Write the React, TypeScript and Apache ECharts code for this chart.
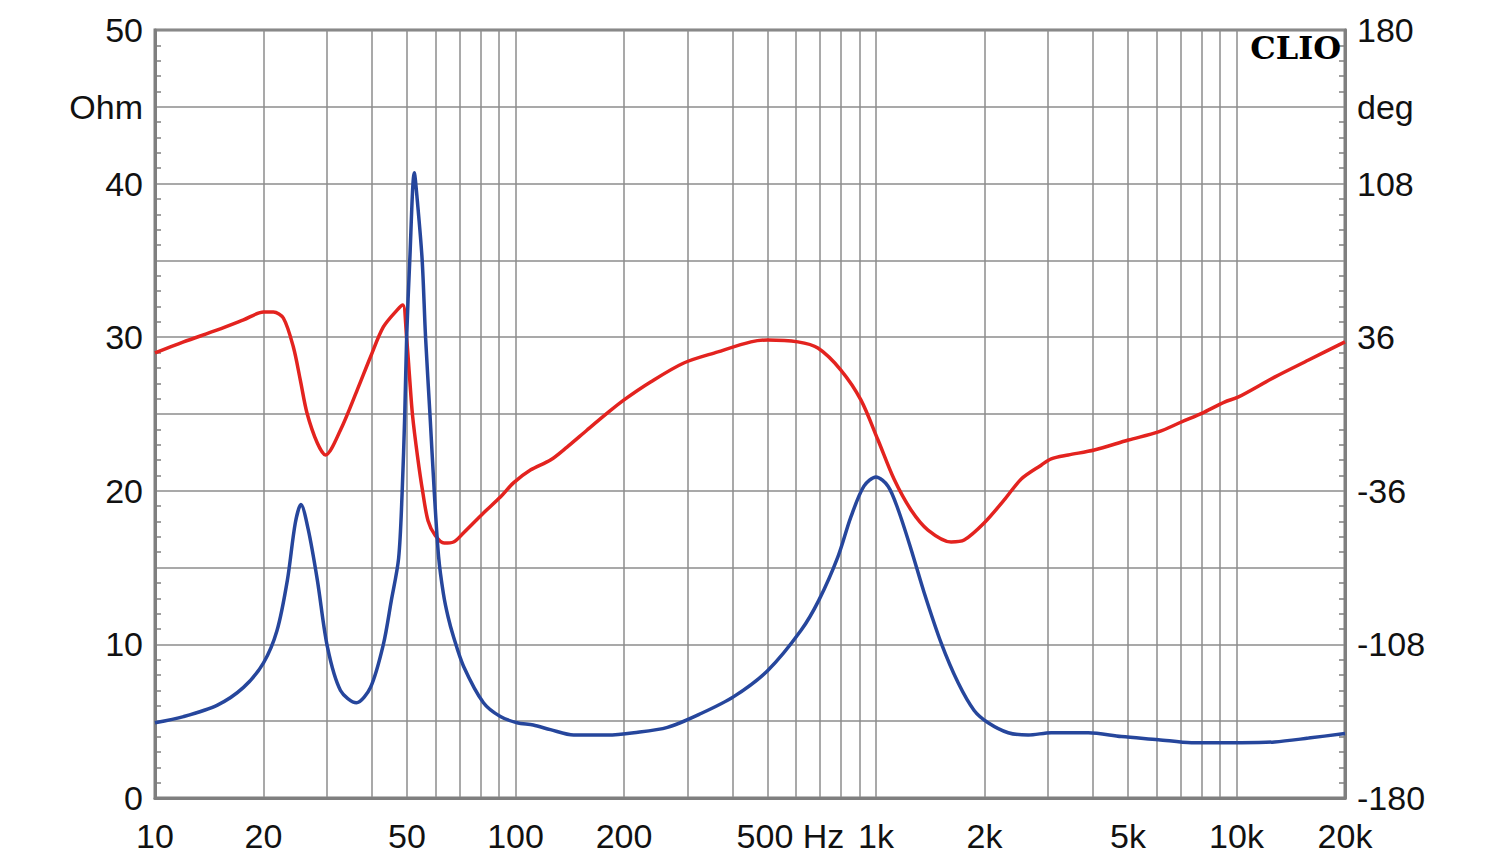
import React, { useEffect, useRef } from "react";
import * as echarts from "echarts";

// Impedance magnitude (Ohm) vs frequency (Hz)
const IMP_FREQ = [10, 12, 14.9, 17.6, 20, 21.8, 23.3, 24.5, 25.4, 26.6, 28.2, 30.1, 32.7, 36.2, 39.6, 43, 45.2, 47.4, 48.5, 49.3, 49.9, 50.9, 52.4, 53.6, 55.1, 56.3, 57.9, 59.5, 61.2, 63.1, 65, 67.3, 71.7, 81.5, 90.8, 101, 112, 125, 145, 180, 213, 264, 327, 403, 501, 619, 695, 784, 852, 926, 1000, 1080, 1151, 1251, 1359, 1516, 1690, 1872, 2047, 2327, 2644, 3062, 3881, 4793, 6072, 7499, 10325, 12756, 15849, 20000];
const IMP_OHM = [4.9, 5.3, 6.05, 7.2, 8.8, 10.9, 14.2, 17.9, 19.1, 17.5, 14.2, 9.8, 7.0, 6.2, 7.2, 10.0, 12.8, 15.6, 20.0, 25.0, 30.0, 35.0, 40.7, 38.5, 35.0, 30.0, 25.0, 20.0, 15.7, 13.3, 11.8, 10.5, 8.6, 6.2, 5.3, 4.9, 4.75, 4.45, 4.1, 4.1, 4.25, 4.6, 5.5, 6.6, 8.3, 10.9, 12.9, 15.7, 18.3, 20.3, 20.9, 20.3, 18.8, 16.2, 13.4, 10.1, 7.5, 5.7, 4.9, 4.25, 4.1, 4.25, 4.25, 4.0, 3.8, 3.6, 3.6, 3.65, 3.9, 4.2];

// Phase (deg) vs frequency (Hz)
const PHASE_FREQ = [10, 12, 14.9, 17.6, 20, 21.3, 22.7, 24.2, 25.3, 26.4, 28.2, 29.7, 32.7, 36.4, 39.6, 43, 47, 48.7, 49.9, 50.8, 51.8, 53.5, 55.3, 57.2, 59.9, 63.4, 67.3, 71.7, 81.5, 90.8, 98.7, 110, 125, 139, 158, 180, 200, 237, 293, 364, 450, 501, 607, 690, 799, 908, 1013, 1122, 1251, 1394, 1616, 1756, 1995, 2268, 2529, 2872, 3062, 3415, 4033, 5012, 6072, 7034, 8149, 9262, 10130, 12756, 15849, 20000];
const PHASE_DEG = [28.6, 33.8, 39.4, 44.1, 47.8, 47.8, 45.0, 31.4, 15.9, 0.5, -13.6, -19.2, -7.5, 11.3, 26.7, 40.8, 48.8, 51.1, 35.6, 18.0, -0.5, -20.0, -36.6, -50.0, -57.0, -60.5, -60.0, -55.8, -46.4, -38.9, -32.3, -26.3, -21.6, -15.5, -7.5, 0.5, 6.6, 15.0, 23.9, 29.1, 33.8, 34.7, 33.8, 30.9, 20.6, 6.6, -12.2, -30.5, -45.0, -54.4, -60.0, -59.1, -51.1, -40.3, -30.5, -24.0, -21.0, -19.2, -16.9, -12.2, -8.4, -3.75, 0.9, 5.6, 8.0, 17.3, 25.3, 33.8];

// Axis grid and labels
const GRID_FREQS = [10, 20, 30, 40, 50, 60, 70, 80, 90, 100, 200, 300, 400, 500, 600, 700, 800, 900, 1000, 2000, 3000, 4000, 5000, 6000, 7000, 8000, 9000, 10000, 20000];
const X_LABEL_FREQS = [10, 20, 50, 100, 200, 500, 1000, 2000, 5000, 10000, 20000];
const X_LABEL_TEXT = ["10", "20", "50", "100", "200", "500 Hz", "1k", "2k", "5k", "10k", "20k"];
const LEFT_LABEL_VALUES = [0, 10, 20, 30, 40, 45, 50];
const LEFT_LABEL_TEXT = ["0", "10", "20", "30", "40", "Ohm", "50"];
const RIGHT_LABEL_VALUES = [-180, -108, -36, 36, 108, 144, 180];
const RIGHT_LABEL_TEXT = ["-180", "-108", "-36", "36", "108", "deg", "180"];

const FONT = "Liberation Sans, Arial, sans-serif";
const FONT_SIZE = 34;
const GRID_COLOR = "#8c8c8c";
const AXIS_COLOR = "#7f7f7f";

export default function App() {
  const ref = useRef<HTMLDivElement>(null);

  useEffect(() => {
    document.body.style.margin = "0";
    if (!ref.current) return;
    const chart = echarts.init(ref.current, undefined, { renderer: "svg" });

    const lg = (f: number) => Math.log10(f);
    const impData = IMP_FREQ.map((f, i) => [lg(f), IMP_OHM[i]]);
    const phaseData = PHASE_FREQ.map((f, i) => [lg(f), PHASE_DEG[i]]);

    const findLabel = (vals: number[], texts: string[], v: number) => {
      for (let i = 0; i < vals.length; i++) {
        if (Math.abs(vals[i] - v) < 1e-6) return texts[i];
      }
      return "";
    };

    const option: any = {
      animation: false,
      backgroundColor: "#ffffff",
      grid: {
        left: 155,
        right: 155,
        top: 30,
        bottom: 66,
        show: true,
        borderColor: AXIS_COLOR,
        borderWidth: 3,
        backgroundColor: "transparent",
      },
      xAxis: {
        type: "value",
        min: lg(10),
        max: lg(20000),
        axisLine: { show: true, lineStyle: { color: AXIS_COLOR, width: 3 } },
        axisTick: { show: false, customValues: GRID_FREQS.map(lg) },
        splitLine: { show: true, lineStyle: { color: GRID_COLOR, width: 1.5 } },
        axisLabel: {
          customValues: X_LABEL_FREQS.map(lg),
          margin: 21,
          formatter: (v: number) => {
            const t = findLabel(X_LABEL_FREQS.map(lg), X_LABEL_TEXT, v);
            if (t === "500 Hz") return "{pad| }{t|500 Hz}";
            return "{t|" + t + "}";
          },
          rich: {
            t: { fontSize: FONT_SIZE, fontFamily: FONT, color: "#111" },
            pad: { width: 46, fontSize: FONT_SIZE, fontFamily: FONT },
          },
        },
      },
      yAxis: [
        {
          type: "value",
          min: 0,
          max: 50,
          interval: 5,
          position: "left",
          axisLine: { show: true, lineStyle: { color: AXIS_COLOR, width: 3 } },
          axisTick: { show: false, inside: true },
          minorTick: { show: true, splitNumber: 5, length: 6, lineStyle: { color: AXIS_COLOR, width: 1.5 } },
          splitLine: { show: true, lineStyle: { color: GRID_COLOR, width: 1.5 } },
          axisLabel: {
            margin: 12,
            fontSize: FONT_SIZE,
            fontFamily: FONT,
            color: "#111",
            formatter: (v: number) => findLabel(LEFT_LABEL_VALUES, LEFT_LABEL_TEXT, v),
          },
        },
        {
          type: "value",
          min: -180,
          max: 180,
          interval: 36,
          position: "right",
          axisLine: { show: true, lineStyle: { color: AXIS_COLOR, width: 3 } },
          axisTick: { show: false, inside: true },
          minorTick: { show: true, splitNumber: 5, length: 6, lineStyle: { color: AXIS_COLOR, width: 1.5 } },
          splitLine: { show: false },
          axisLabel: {
            margin: 12,
            fontSize: FONT_SIZE,
            fontFamily: FONT,
            color: "#111",
            formatter: (v: number) => findLabel(RIGHT_LABEL_VALUES, RIGHT_LABEL_TEXT, v),
          },
        },
      ],
      series: [
        {
          name: "Phase",
          type: "line",
          yAxisIndex: 1,
          data: phaseData,
          showSymbol: false,
          smooth: 0.3,
          lineStyle: { color: "#e3231f", width: 3.5 },
          z: 3,
        },
        {
          name: "Impedance",
          type: "line",
          yAxisIndex: 0,
          data: impData,
          showSymbol: false,
          smooth: 0.3,
          lineStyle: { color: "#26469c", width: 3.5 },
          z: 4,
        },
      ],
      graphic: [
        {
          type: "text",
          x: 1341,
          y: 48,
          z: 10,
          style: {
            text: "CLIO",
            fontFamily: "DejaVu Serif, serif",
            fontWeight: "bold",
            fontSize: 32,
            fill: "#000",
            textAlign: "right",
            textVerticalAlign: "middle",
          },
        },
      ],
    };

    chart.setOption(option);
    return () => chart.dispose();
  }, []);

  return <div ref={ref} style={{ width: 1500, height: 864 }} />;
}
